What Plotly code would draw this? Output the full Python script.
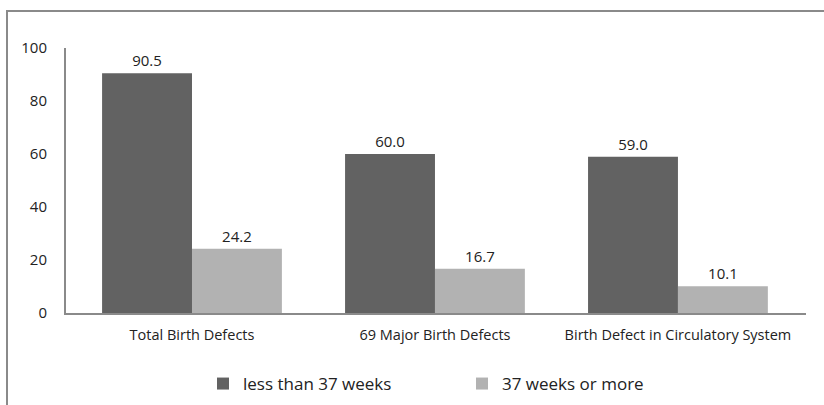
import plotly.graph_objects as go

categories = ["Total Birth Defects", "69 Major Birth Defects", "Birth Defect in Circulatory System"]
under_37 = [90.5, 60.0, 59.0]
over_37 = [24.2, 16.7, 10.1]
y_ticks = [0, 20, 40, 60, 80, 100]

FONT = "'Open Sans', 'Noto Sans', sans-serif"
W, H = 824, 405
L, R, T, B = 66, 18, 48, 92
pw, ph = W - L - R, H - T - B

fig = go.Figure()
fig.add_trace(go.Bar(
    x=categories, y=under_37, name="less than 37 weeks",
    marker=dict(color="#626262", line=dict(width=0)),
    text=[f"{v:.1f}" for v in under_37], textposition="outside",
    textfont=dict(size=15, color="#222"), cliponaxis=False,
))
fig.add_trace(go.Bar(
    x=categories, y=over_37, name="37 weeks or more",
    marker=dict(color="#b2b2b2", line=dict(width=0)),
    text=[f"{v:.1f}" for v in over_37], textposition="outside",
    textfont=dict(size=15, color="#222"), cliponaxis=False,
))

# outer chart frame; its right and bottom edges run past the page
fig.add_shape(type="rect", xref="paper", yref="paper",
              x0=(7 - L) / pw, x1=(W + 20 - L) / pw,
              y0=-(B + 20) / ph, y1=1 + (T - 11) / ph,
              line=dict(color="#8a8a8a", width=2), fillcolor="rgba(0,0,0,0)",
              layer="above")

fig.update_layout(
    width=W, height=H,
    margin=dict(l=L, r=R, t=T, b=B, autoexpand=False),
    paper_bgcolor="white", plot_bgcolor="white",
    barmode="group", bargap=0.26, bargroupgap=0,
    font=dict(family=FONT, color="#222"),
    showlegend=True,
    legend=dict(
        orientation="h", xref="container", yref="container",
        x=203 / W, xanchor="left",
        y=1 - 384 / H, yanchor="middle",
        font=dict(size=17, color="#222"),
        entrywidth=214, entrywidthmode="pixels",
        itemwidth=30, traceorder="normal",
    ),
    xaxis=dict(
        range=[-0.5185, 2.527],
        showline=True, linecolor="#8a8a8a", linewidth=2,
        ticks="", showgrid=False,
        tickfont=dict(size=14.5, color="#222"),
        ticklabelstandoff=8,
        automargin=False,
    ),
    yaxis=dict(
        range=[0, 100], tickvals=y_ticks,
        showline=True, linecolor="#8a8a8a", linewidth=2,
        ticks="", showgrid=False, zeroline=False,
        tickfont=dict(size=15, color="#222"), ticklabelstandoff=14,
        automargin=False,
    ),
)

fig.write_html("out.html", config={"displayModeBar": False})
